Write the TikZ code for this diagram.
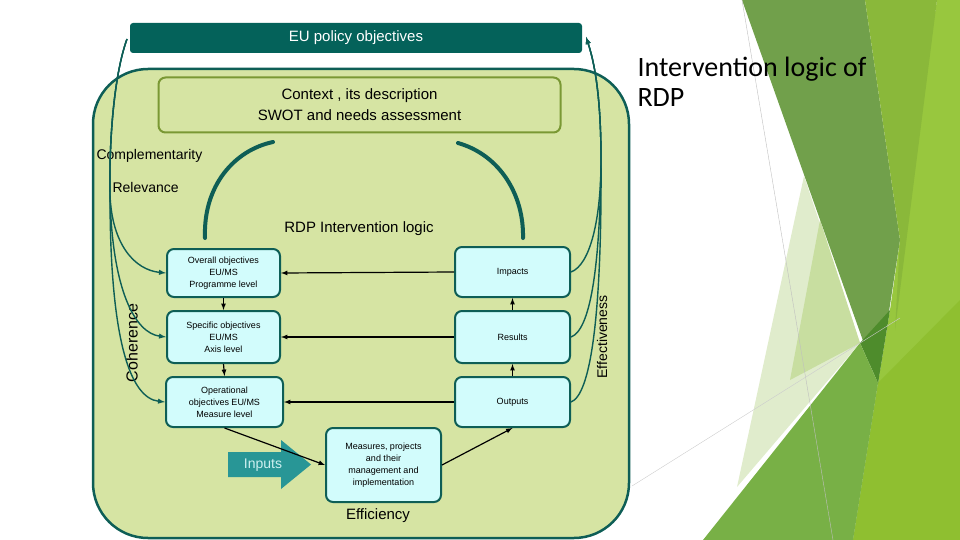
\documentclass[tikz,border=0pt]{standalone}
\usepackage{fontspec}
\setmainfont{Liberation Sans}
\newfontfamily\titlefont{Carlito}
\definecolor{tealdark}{RGB}{14,94,86}
\definecolor{eufill}{RGB}{4,98,90}
\definecolor{panelgreen}{RGB}{214,228,163}
\definecolor{olive}{RGB}{122,152,52}
\definecolor{boxcyan}{RGB}{210,252,252}
\definecolor{inputteal}{RGB}{40,150,150}
\definecolor{inputtext}{RGB}{205,240,240}
\definecolor{facetpale}{RGB}{224,236,204}
\definecolor{facetsoft}{RGB}{200,222,160}
\definecolor{facetdark}{RGB}{113,160,75}
\definecolor{facetolive}{RGB}{138,184,58}
\definecolor{facetbright}{RGB}{152,199,62}
\definecolor{facetmid}{RGB}{120,176,70}
\definecolor{facetdeep}{RGB}{78,140,44}
\definecolor{facetlime}{RGB}{143,191,48}
\begin{document}
\begin{tikzpicture}[x=1pt, y=-1pt,
    objbox/.style={draw=tealdark, line width=2pt, rounded corners=7pt, fill=boxcyan,
        align=center, font=\fontsize{9}{12}\selectfont, inner sep=2pt},
    flow/.style={line width=1.2pt, -latex},
    link/.style={draw=tealdark, line width=1.4pt},
    bigarc/.style={draw=tealdark, line width=4pt, line cap=round}]
    \useasboundingbox (0,0) rectangle (960,540);

    % Background facets
    \fill[facetbright] (937,0) -- (960,0) -- (960,540) -- (853,540) -- (878,383) -- (890,310) -- (900,240) -- cycle;
    \fill[facetlime] (853,540) -- (960,540) -- (960,300) -- (878,383) -- cycle;
    \fill[facetpale] (804,176) -- (860,343) -- (737,487) -- cycle;
    \fill[facetsoft] (820,220) -- (860,343) -- (790,380) -- cycle;
    \fill[facetdark] (742,0) -- (865,0) -- (900,240) -- (878,383) -- cycle;
    \fill[facetolive] (865,0) -- (937,0) -- (895,330) -- (900,240) -- cycle;
    \fill[facetdeep] (890,310) -- (860,343) -- (878,383) -- cycle;
    \fill[facetmid] (860,343) -- (878,383) -- (853,540) -- (703,540) -- cycle;
    \draw[gray!50, line width=0.4pt] (742,0) -- (833,540);
    \draw[gray!40, line width=0.4pt] (632,486) -- (900,318);

    % Title
    \node[anchor=north west, align=left, font=\titlefont\fontsize{28}{30}\selectfont] (title) at (634,54) {Intervention logic of\\RDP};

    % Panel and top boxes
    \draw[tealdark, line width=2.5pt, fill=panelgreen, rounded corners=55pt] (93,69) rectangle (629,538);
    \node[fill=eufill, rounded corners=3pt, minimum width=452pt, minimum height=30pt, text=white,
        font=\fontsize{15}{18}\selectfont] (eu) at (356,38) {EU policy objectives};
    \node[draw=olive, line width=2pt, fill=panelgreen, rounded corners=7pt, minimum width=402pt,
        minimum height=55pt, align=center, font=\fontsize{15}{21}\selectfont] (ctx) at (359.5,105)
        {Context , its description\\SWOT and needs assessment};

    % Labels
    \node[anchor=west, font=\fontsize{14}{16}\selectfont] (compl) at (93,156) {Complementarity};
    \node[anchor=west, font=\fontsize{14}{16}\selectfont] (relev) at (109,187) {Relevance};
    \node[font=\fontsize{15}{18}\selectfont] (rdp) at (359,229) {RDP Intervention logic};
    \node[rotate=90, font=\fontsize{16}{18}\selectfont] (coh) at (132,343) {Coherence};
    \node[rotate=90, font=\fontsize{14}{16}\selectfont] (eff) at (602,337) {Effectiveness};
    \node[font=\fontsize{15}{18}\selectfont] (effic) at (378,516) {Efficiency};

    % Objective and result boxes
    \node[objbox, minimum width=113pt, minimum height=48pt] (ov) at (223.5,273) {Overall objectives\\EU/MS\\Programme level};
    \node[objbox, minimum width=113pt, minimum height=52pt] (sp) at (223.5,337) {Specific objectives\\EU/MS\\Axis level};
    \node[objbox, minimum width=117pt, minimum height=50pt] (op) at (224.5,402) {Operational\\objectives EU/MS\\Measure level};
    \node[objbox, minimum width=115pt, minimum height=50pt] (im) at (512.5,272) {Impacts};
    \node[objbox, minimum width=115pt, minimum height=52pt] (re) at (512.5,337) {Results};
    \node[objbox, minimum width=115pt, minimum height=50pt] (ou) at (512.5,402) {Outputs};
    \node[objbox, minimum width=115pt, minimum height=74pt] (me) at (383.5,465) {Measures, projects\\and their\\management and\\implementation};

    % Inputs arrow
    \fill[inputteal] (228,452) -- (281,452) -- (281,440) -- (311,464.5) -- (281,489) -- (281,477) -- (228,477) -- cycle;
    \node[text=inputtext, font=\fontsize{14}{16}\selectfont] (inp) at (263,465) {Inputs};

    % Flow arrows
    \draw[flow] (im.west) -- (ov.east);
    \draw[flow] (re.west) -- (sp.east);
    \draw[flow] (ou.west) -- (op.east);
    \draw[flow] (ov.south) -- (sp.north);
    \draw[flow] (sp.south) -- (op.north);
    \draw[flow] (ou.north) -- (re.south);
    \draw[flow] (re.north) -- (im.south);
    \draw[flow] (op.south) -- (me.west);
    \draw[flow] (me.east) -- (ou.south);

    % Big arcs
    \coordinate (arcla) at (205,238);
    \coordinate (arclb) at (273,142);
    \coordinate (arcra) at (458,143);
    \coordinate (arcrb) at (523,238);
    \draw[bigarc] (arcla) .. controls (203,185) and (235,150) .. (arclb);
    \draw[bigarc] (arcra) .. controls (500,155) and (524,195) .. (arcrb);

    % Coherence links
    \coordinate (ltop) at (127,39);
    \coordinate (lsplit) at (110,195);
    \draw[link, -latex] (ltop) .. controls (114,75) and (109,140) .. (lsplit) .. controls (112,245) and (135,270) .. (ov.west);
    \draw[link, -latex] (ltop) .. controls (114,75) and (109,140) .. (lsplit) .. controls (112,290) and (135,333) .. (sp.west);
    \draw[link, -latex] (ltop) .. controls (114,75) and (109,140) .. (lsplit) .. controls (110,340) and (130,398) .. (op.west);

    % Effectiveness links
    \coordinate (rtop) at (586,37);
    \coordinate (rsplit) at (601,160);
    \draw[link, latex-] (rtop) .. controls (597,70) and (601,110) .. (rsplit) .. controls (601,220) and (590,265) .. (im.east);
    \draw[link, latex-] (rtop) .. controls (597,70) and (601,110) .. (rsplit) .. controls (600,270) and (590,330) .. (re.east);
    \draw[link, latex-] (rtop) .. controls (597,70) and (601,110) .. (rsplit) .. controls (602,320) and (590,395) .. (ou.east);
\end{tikzpicture}
\end{document}
